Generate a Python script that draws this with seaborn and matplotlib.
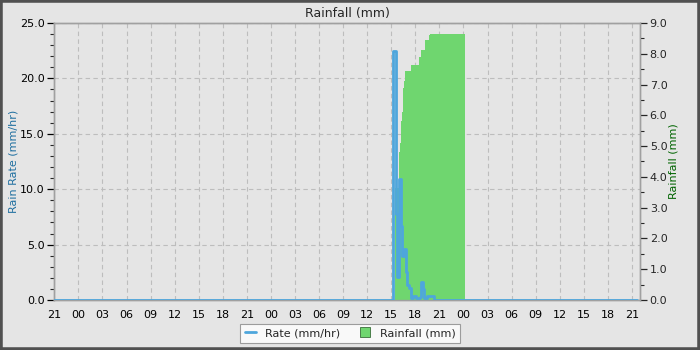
import matplotlib
matplotlib.use("Agg")
import matplotlib.pyplot as plt
import seaborn as sns
import pandas as pd
import numpy as np
from matplotlib.patches import Rectangle
from matplotlib.lines import Line2D
from matplotlib.ticker import MultipleLocator

# ---- data (hours since 21:00 on day 1) ----
rate_hours = [0.0, 42.2, 42.55, 42.65, 42.75, 42.95, 43.2, 43.3, 43.55, 43.8, 44.0,
              44.2, 44.45, 44.7, 45.1, 45.55, 45.7, 45.95, 46.05, 46.4, 47.3, 72.6]
rate_values = [0.0, 22.5, 10.5, 7.8, 2.1, 10.9, 6.7, 4.0, 4.6, 2.5, 1.35,
               1.1, 0.2, 0.4, 0.2, 0.3, 1.6, 1.0, 0.2, 0.4, 0.0, 0.0]

rain_hours = [42.5, 43.01, 43.14, 43.26, 43.39, 43.51, 43.64, 43.76, 44.51,
              45.51, 45.67, 46.26, 46.76, 46.88, 51.25]
rain_values = [3.64, 4.8, 5.1, 5.8, 6.1, 6.9, 7.1, 7.44, 7.63,
               7.9, 8.12, 8.45, 8.6, 8.64, 8.64]

tick_hours = list(range(0, 73, 3))
tick_labels = ["21", "00", "03", "06", "09", "12", "15", "18",
               "21", "00", "03", "06", "09", "12", "15", "18",
               "21", "00", "03", "06", "09", "12", "15", "18", "21"]

title = "Rainfall (mm)"
left_label = "Rain Rate (mm/hr)"
right_label = "Rainfall (mm)"

rate_df = pd.DataFrame({"hour": rate_hours, "rate": rate_values})
rain_df = pd.DataFrame({"hour": rain_hours, "rain": rain_values})

sns.set_style("white")
plt.rcParams["font.family"] = ["DejaVu Sans"]
bg = "#e5e5e5"
blue = "#4ea6dc"
green = "#6fd66f"

fig = plt.figure(figsize=(7, 3.5), dpi=100, facecolor=bg)
ax = fig.add_axes([54.3 / 700, 50 / 350, (640 - 54.3) / 700, (300 - 23) / 350])
ax.set_facecolor(bg)
ax2 = ax.twinx()
ax3 = ax.twinx()

# grid / left axis
ax.set_xlim(0, 73)
ax.set_ylim(0, 25)
ax.yaxis.set_major_locator(MultipleLocator(5))
ax.yaxis.set_minor_locator(MultipleLocator(1))
ax.yaxis.set_major_formatter(matplotlib.ticker.FormatStrFormatter("%.1f"))
ax.set_xticks(tick_hours)
ax.set_xticklabels(tick_labels)
ax.xaxis.set_minor_locator(MultipleLocator(1))
ax.grid(True, which="major", color="#bdbdbd", linestyle=(0, (4, 3)), linewidth=0.8)
ax.set_ylabel(left_label, color="#1f6fa0", fontsize=8, labelpad=1)
ax.tick_params(axis="both", which="major", direction="out", length=5, width=0.9,
               labelsize=8, colors="black", pad=2)
ax.tick_params(axis="both", which="minor", direction="out", length=3, width=0.8)
ax.set_title(title, fontsize=9, pad=4)

# rainfall (right axis)
ax2.set_ylim(0, 9)
ax2.yaxis.set_major_locator(MultipleLocator(1))
ax2.yaxis.set_minor_locator(MultipleLocator(0.5))
ax2.yaxis.set_major_formatter(matplotlib.ticker.FormatStrFormatter("%.1f"))
ax2.fill_between(rain_df["hour"], rain_df["rain"], step="post", color=green, linewidth=0)
ax2.set_ylabel(right_label, color="#006400", fontsize=8, labelpad=1)
ax2.tick_params(axis="y", which="major", direction="out", length=5, width=0.9,
                labelsize=8, pad=2)
ax2.tick_params(axis="y", which="minor", direction="out", length=3, width=0.8)

# rate line on top
sns.lineplot(data=rate_df, x="hour", y="rate", ax=ax3, color=blue, linewidth=2,
             drawstyle="steps-post", legend=False)
ax3.set_ylim(0, 25)
ax3.set_xlim(0, 73)
ax3.axis("off")

for a in (ax, ax2):
    for s in a.spines.values():
        s.set_color("#a0a0a0")
        s.set_linewidth(1)
ax.set_xlabel("")

handles = [Line2D([0], [0], color=blue, linewidth=2),
           Line2D([0], [0], marker="s", color="none", markerfacecolor=green,
                  markeredgecolor="#3a6e3a", markersize=7, markeredgewidth=0.6)]
leg = fig.legend(handles, ["Rate (mm/hr)", "Rainfall (mm)"], loc="lower center",
                 bbox_to_anchor=(0.5, 0.005), ncol=2, fontsize=8, frameon=True,
                 fancybox=False, edgecolor="#888888", handlelength=1.0,
                 columnspacing=1.8, borderpad=0.4)
leg.get_frame().set_facecolor("white")
leg.get_frame().set_linewidth(0.8)

fig.patches.append(Rectangle((0, 0), 1, 1, transform=fig.transFigure, fill=False,
                             edgecolor="#505050", linewidth=4, zorder=10))

fig.savefig("out.png", dpi=100, facecolor=bg)
